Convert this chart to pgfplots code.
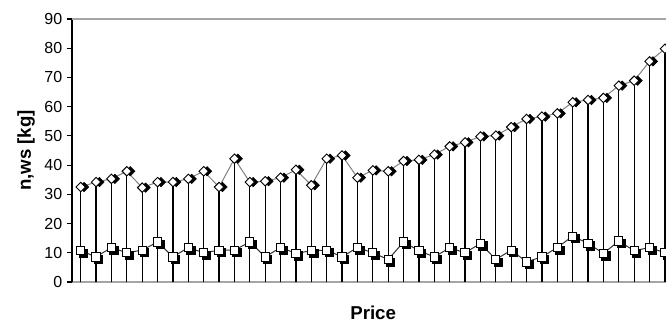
\documentclass[border=0pt]{standalone}
\usepackage{fontspec}
\setmainfont{Liberation Sans}
\usepackage{pgfplots}
\pgfplotsset{compat=1.18}
\usepackage{pgfplotstable}

\pgfplotstableread{
x y
0 32.5
1 34.2
2 35.3
3 37.9
4 32.3
5 34.2
6 34.2
7 35.3
8 37.9
9 32.5
10 42.2
11 34.2
12 34.5
13 35.7
14 38.4
15 33.1
16 42.2
17 43.3
18 35.7
19 38.2
20 37.9
21 41.4
22 41.8
23 43.6
24 46.4
25 47.8
26 49.8
27 50.1
28 53.0
29 55.8
30 56.6
31 57.7
32 61.5
33 62.3
34 63.0
35 67.2
36 68.9
37 75.5
38 79.8
}\upperdata

\pgfplotstableread{
x y
0 10.7
1 8.6
2 11.8
3 10.0
4 10.9
5 13.7
6 8.6
7 11.8
8 10.0
9 10.9
10 10.9
11 13.7
12 8.6
13 11.8
14 9.8
15 10.7
16 10.9
17 8.6
18 11.8
19 10.0
20 7.7
21 13.7
22 10.7
23 8.6
24 11.7
25 10.0
26 13.2
27 7.7
28 10.9
29 6.9
30 8.6
31 11.8
32 15.7
33 13.2
34 9.8
35 14.0
36 10.7
37 11.8
38 10.0
}\lowerdata

\begin{document}
\begin{tikzpicture}
\useasboundingbox (-54pt,-32.25pt) rectangle (445.5pt,211.5pt);
\begin{axis}[
  at={(0,0)}, anchor=south west,
  scale only axis, width=445.5pt, height=197.25pt,
  xmin=-0.566, xmax=38.07, ymin=0, ymax=90,
  xtick=\empty, ytick={0,10,...,90},
  axis lines*=left,
  x axis line style={draw=gray!70, line width=1pt},
  y axis line style={draw=black, line width=1pt},
  tick align=outside, major tick length=3.75pt,
  ytick style={black, line width=0.9pt},
  /pgf/number format/assume math mode=true,
  yticklabel style={font=\fontsize{12}{14}\selectfont},
  xlabel={Price}, ylabel={n,ws [kg]},
  label style={font=\bfseries\fontsize{14}{16}\selectfont},
  xlabel style={at={(axis description cs:0.507,-0.1167)}, anchor=center},
  ylabel style={at={(axis description cs:-0.0774,0.5)}, anchor=center},
  clip=false,
]
% top border line
\addplot[gray!70, line width=1.4pt, mark=none, forget plot] coordinates {(-0.566,90) (38.07,90)};
% drop lines
\addplot[ycomb, black, line width=0.95pt, mark=none] table[x=x,y=y] {\upperdata};
% upper series line
\addplot[gray, line width=0.75pt, mark=none] table[x=x,y=y] {\upperdata};
% upper shadows
\addplot[only marks, mark=square*, mark size=2.5pt, mark options={rotate=45, fill=black, draw=black, xshift=1.8pt, yshift=-1.8pt}] table[x=x,y=y] {\upperdata};
% upper markers
\addplot[only marks, mark=square*, mark size=2.5pt, mark options={rotate=45, fill=white, draw=black, line width=0.7pt}] table[x=x,y=y] {\upperdata};
% lower series line
\addplot[black!80, line width=0.75pt, mark=none] table[x=x,y=y] {\lowerdata};
% lower shadows
\addplot[only marks, mark=square*, mark size=3.1pt, mark options={fill=black, draw=black, xshift=1.8pt, yshift=-1.8pt}] table[x=x,y=y] {\lowerdata};
% lower markers
\addplot[only marks, mark=square*, mark size=3.1pt, mark options={fill=white, draw=black, line width=0.7pt}] table[x=x,y=y] {\lowerdata};
\end{axis}
\end{tikzpicture}
\end{document}
